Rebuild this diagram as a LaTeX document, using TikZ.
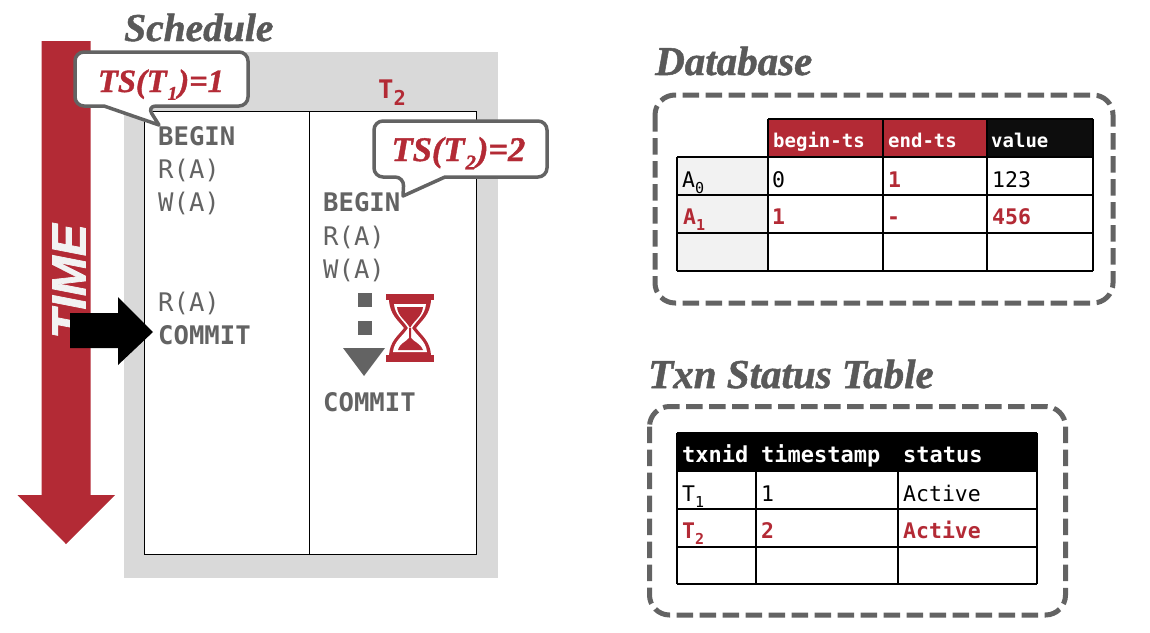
\documentclass[tikz,border=0pt]{standalone}
\usepackage{fontspec}
\setmainfont{Liberation Serif}
\setsansfont{Liberation Sans}
\setmonofont{DejaVu Sans Mono}
\newfontface\headfont{Liberation Serif Bold Italic}[FakeBold=1.2]
\newfontface\timefont{Liberation Sans Bold Italic}[FakeBold=1.5]
\usepackage{tikz}
\usetikzlibrary{positioning}
\usetikzlibrary{calc}

\definecolor{dbred}{HTML}{B32A35}
\definecolor{dbgray}{HTML}{636363}
\definecolor{titlegray}{HTML}{595959}
\definecolor{panelgray}{HTML}{D9D9D9}
\definecolor{keygray}{HTML}{F2F2F2}

\newcommand{\subtxt}[1]{\raisebox{-.32em}{\scalebox{.7}{#1}}}
\newcommand{\subts}[1]{\hspace{.03em}\raisebox{-.24em}{\scalebox{.6}{#1}}\hspace{.03em}}

\tikzset{
  title/.style={anchor=base west, inner sep=0pt, text=titlegray, font=\fontsize{41}{41}\headfont},
  op/.style={anchor=base west, inner sep=0pt, text=dbgray, font=\fontsize{25.6}{26}\selectfont\ttfamily},
  opb/.style={op, font=\fontsize{25.6}{26}\selectfont\ttfamily\bfseries},
  cell/.style={anchor=base west, inner sep=0pt, font=\fontsize{21.5}{22}\selectfont\ttfamily},
  head/.style={cell, text=white, font=\fontsize{19}{20}\selectfont\ttfamily\bfseries},
  headb/.style={cell, text=white, font=\fontsize{22}{22}\selectfont\ttfamily\bfseries},
  hot/.style={cell, text=dbred, font=\fontsize{21.5}{22}\selectfont\ttfamily\bfseries},
  ts/.style={anchor=base, inner sep=0pt, text=dbred, font=\fontsize{32.5}{33}\headfont},
  bubble/.style={draw=dbgray, fill=white, line width=3.5pt, line join=round},
  dashbox/.style={draw=dbgray, line width=5pt, rounded corners=20pt, dash pattern=on 16.5pt off 6.5pt},
  grid/.style={draw=black, line width=1.5pt},
}

\begin{document}
\begin{tikzpicture}[x=1pt, y=-1pt]
    \useasboundingbox (0,0) rectangle (1150,632);

    % time arrow
    \fill[dbred] (41.5,41) -- (90.5,41) -- (90.5,495) -- (115,495) -- (66,544) -- (17.5,495) -- (41.5,495) -- cycle;
    \node[rotate=90, anchor=base west, inner sep=0pt, text=keygray, font=\fontsize{48}{48}\timefont] (timelbl) at (85.5,339) {TIME};

    % schedule
    \fill[panelgray] (124,52) rectangle (498,578);
    \draw[fill=white, line width=1.3pt] (144.5,111.5) rectangle (476.5,554.5);
    \draw[line width=1.3pt] (309.5,111.5) -- (309.5,554.5);
    \node[title, font=\fontsize{39.5}{40}\headfont] (schedule) at (124,41) {Schedule};
    \node[opb, text=dbred] (t2) at (378,98) {T\scalebox{.8}{\raisebox{-.35em}{2}}};

    \node[opb] (begina) at (158,145) {BEGIN};
    \node[op] (ra) at (158,178) {R(A)};
    \node[op] (wa) at (158,211) {W(A)};
    \node[op] (rb) at (158,311) {R(A)};
    \node[opb] (commita) at (158,344) {COMMIT};

    \node[opb] (beginb) at (323,211) {BEGIN};
    \node[op] (rc) at (323,245) {R(A)};
    \node[op] (wb) at (323,278) {W(A)};
    \node[opb] (commitb) at (323,411) {COMMIT};

    % dots and wedge below the stalled write
    \fill[dbgray] (357.5,293) rectangle (371.5,307);
    \fill[dbgray] (357.5,321) rectangle (371.5,335);
    \fill[dbgray] (343,348) -- (385,348) -- (364,376) -- cycle;

    % hourglass
    \fill[dbred] (386,294) rectangle (434,300);
    \fill[dbred] (386,355) rectangle (434,362);
    \fill[dbred] (389,300) .. controls (390,315) and (398,320) .. (404,328)
        .. controls (398,336) and (390,341) .. (389,355) -- (431,355)
        .. controls (430,341) and (422,336) .. (416,328)
        .. controls (422,320) and (430,315) .. (431,300) -- cycle;
    \fill[white] (394,304) .. controls (395,315) and (403,320) .. (408,328)
        .. controls (403,336) and (394,341) .. (393,352) -- (427,352)
        .. controls (426,341) and (417,336) .. (412,328)
        .. controls (417,320) and (425,315) .. (426,304) -- cycle;
    \fill[dbred] (397,307) -- (423,307) .. controls (422,317) and (414,320) .. (410,328)
        .. controls (406,320) and (398,317) .. (397,307) -- cycle;
    \fill[dbred] (398,350) .. controls (400,343) and (406,342) .. (409,338) -- (409,328) -- (411,328) -- (411,338)
        .. controls (414,342) and (420,343) .. (423,350) -- cycle;

    % pointer to commit
    \fill[black] (70,313) -- (118,313) -- (118,297) -- (153,332) -- (118,365) -- (118,348) -- (70,348) -- cycle;

    % timestamp bubbles
    \draw[bubble] (147,106) -- (159,125) -- (104,106) [rounded corners=9pt] -- (75,106) -- (75,52) -- (248,52) -- (248,106) -- cycle;
    \node[ts] (tsa) at (161,92) {TS(T\subts{1})=1};
    \draw[bubble] (404,177) -- (403,196) -- (445,177) [rounded corners=9pt] -- (547,177) -- (547,121) -- (374,121) -- (374,177) -- cycle;
    \node[ts, font=\fontsize{34.5}{35}\headfont] (tsb) at (458.5,161) {TS(T\subts{2})=2};

    % version table
    \node[title] (database) at (655,75) {Database};
    \draw[dashbox] (655,95) rectangle (1113,303);
    \fill[keygray] (677,157) rectangle (768,271);
    \fill[dbred] (768,119) rectangle (987,157);
    \fill[black!95] (987,119) rectangle (1093,157);
    \foreach \ypos in {157,195,233,271}
      \draw[grid] (677,\ypos) -- (1093,\ypos);
    \draw[grid] (768,119) -- (1093,119);
    \draw[grid] (677,157) -- (677,271);
    \foreach \xpos in {768,883,987,1093}
      \draw[grid] (\xpos,119) -- (\xpos,271);

    \node[head] (beginhd) at (773,147) {begin-ts};
    \node[head] (endhd) at (888,147) {end-ts};
    \node[head] (valhd) at (991,147) {value};
    \node[cell] (azero) at (682,187) {A\subtxt{0}};
    \node[cell] (azerob) at (772,187) {0};
    \node[hot] (azeroe) at (888,187) {1};
    \node[cell] (azerov) at (992,187) {123};
    \node[hot] (aone) at (683,224) {A\subtxt{1}};
    \node[hot] (aoneb) at (772,224) {1};
    \node[hot] (aonee) at (887,224) {-};
    \node[hot] (aonev) at (992,224) {456};

    % status table
    \node[title] (status) at (648,388) {Txn Status Table};
    \draw[dashbox] (649.5,406.5) rectangle (1065.5,615);
    \fill[black] (677,433) rectangle (1037,471);
    \foreach \ypos in {471,509,547,584}
      \draw[grid] (677,\ypos) -- (1037,\ypos);
    \draw[grid] (677,433) -- (1037,433);
    \foreach \xpos in {677,756,898,1037}
      \draw[grid] (\xpos,433) -- (\xpos,584);

    \node[headb] (txnhd) at (682,462) {txnid};
    \node[headb] (tshd) at (761,462) {timestamp};
    \node[headb] (sthd) at (903,462) {status};
    \node[cell] (tone) at (682,501) {T\subtxt{1}};
    \node[cell] (tonets) at (761,501) {1};
    \node[cell] (tonest) at (903,501) {Active};
    \node[hot] (ttwo) at (682,538) {T\subtxt{2}};
    \node[hot] (ttwots) at (761,538) {2};
    \node[hot] (ttwost) at (903,538) {Active};
\end{tikzpicture}
\end{document}
